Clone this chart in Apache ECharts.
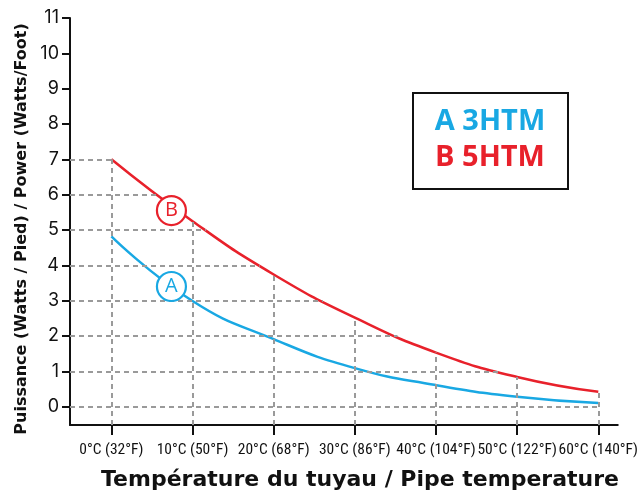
<!DOCTYPE html>
<html>
<head>
<meta charset="utf-8">
<script src="https://cdn.jsdelivr.net/npm/echarts@6/dist/echarts.min.js"></script>
<style>html,body{margin:0;padding:0;background:#fff;}#c{width:641px;height:495px;}</style>
</head>
<body>
<div id="c"></div>
<script>
// ---- data ----
const tempC = [0, 10, 20, 30, 40, 50, 60];
const tempF = [32, 50, 68, 86, 104, 122, 140];
const seriesA = [4.82, 2.99, 1.91, 1.09, 0.61, 0.28, 0.10]; // 3HTM
const seriesB = [7.00, 5.25, 3.74, 2.52, 1.53, 0.84, 0.42]; // 5HTM
const yTicks = [0, 1, 2, 3, 4, 5, 6, 7, 8, 9, 10, 11];
const guideY = [0, 1, 2, 3, 4, 5, 6, 7];
const markerA = [7.4, 3.40];
const markerB = [7.4, 5.55];
const legendLines = ['A 3HTM', 'B 5HTM'];

const BLUE = '#19a8e3';
const RED = '#e8212b';
const GRID = '#9a9a9a';
const X_MIN = -5.1, X_MAX = 62.4, Y_MIN = -0.52, Y_MAX = 11;

function pairs(xs, ys) { return xs.map((x, i) => [x, ys[i]]); }
// x where curve B falls to value v (linear between readings)
function crossB(v) {
  if (v >= seriesB[0]) return tempC[0];
  for (let i = 0; i < seriesB.length - 1; i++) {
    if (seriesB[i] >= v && seriesB[i + 1] <= v) {
      const t = (seriesB[i] - v) / (seriesB[i] - seriesB[i + 1]);
      return tempC[i] + t * (tempC[i + 1] - tempC[i]);
    }
  }
  return tempC[tempC.length - 1];
}
const guides = [];
guideY.forEach(v => guides.push([{ coord: [X_MIN, v] }, { coord: [crossB(v), v] }]));
tempC.forEach((x, i) => guides.push([{ coord: [x, Y_MIN] }, { coord: [x, seriesB[i]] }]));

const chart = echarts.init(document.getElementById('c'), null, { renderer: 'canvas' });
const axisFont = 'Inter, "Noto Sans", sans-serif';
chart.setOption({
  animation: false,
  backgroundColor: '#fff',
  grid: { left: 70, right: 19, top: 18, bottom: 70 },
  xAxis: {
    type: 'value', min: X_MIN, max: X_MAX,
    axisLine: { onZero: false, lineStyle: { color: '#111', width: 2 } },
    axisTick: { show: true, customValues: tempC, length: 10, lineStyle: { color: '#111', width: 2 } },
    axisLabel: {
      customValues: tempC, margin: 17, color: '#111', hideOverlap: false,
      fontFamily: '"Roboto Condensed", sans-serif', fontSize: 15.5,
      formatter: v => { const i = tempC.indexOf(v); return v + '°C (' + tempF[i] + '°F)'; }
    },
    splitLine: { show: false }
  },
  yAxis: {
    type: 'value', min: Y_MIN, max: Y_MAX,
    axisLine: { show: true, onZero: false, lineStyle: { color: '#111', width: 2 } },
    axisTick: { show: true, customValues: yTicks, length: 8, lineStyle: { color: '#111', width: 2 } },
    axisLabel: { customValues: yTicks, margin: 11, color: '#111', fontFamily: axisFont, fontSize: 18 },
    splitLine: { show: false }
  },
  series: [
    {
      type: 'line', data: [], z: 1, silent: true,
      markLine: {
        symbol: 'none', silent: true, animation: false,
        label: { show: false },
        lineStyle: { color: GRID, type: [5, 4], width: 2 },
        emphasis: { disabled: true },
        data: guides
      }
    },
    {
      name: 'A 3HTM', type: 'line', data: pairs(tempC, seriesA), smooth: true,
      symbol: 'none', z: 3, lineStyle: { color: BLUE, width: 2.5 }
    },
    {
      name: 'B 5HTM', type: 'line', data: pairs(tempC, seriesB), smooth: true,
      symbol: 'none', z: 3, lineStyle: { color: RED, width: 2.5 }
    },
    {
      type: 'scatter', data: [markerA], symbol: 'circle', symbolSize: 29, z: 5,
      itemStyle: { color: '#fff', borderColor: BLUE, borderWidth: 2.2, opacity: 1 },
      label: { show: true, position: 'inside', formatter: 'A', color: BLUE, fontFamily: '"Open Sans", sans-serif', fontSize: 20, fontWeight: 500 }
    },
    {
      type: 'scatter', data: [markerB], symbol: 'circle', symbolSize: 29, z: 5,
      itemStyle: { color: '#fff', borderColor: RED, borderWidth: 2.2, opacity: 1 },
      label: { show: true, position: 'inside', formatter: 'B', color: RED, fontFamily: '"Open Sans", sans-serif', fontSize: 20, fontWeight: 500 }
    }
  ],
  graphic: [
    {
      type: 'rect', left: 412, top: 92, z: 10,
      shape: { width: 155, height: 96 },
      style: { fill: '#fff', stroke: '#111', lineWidth: 2 }
    },
    {
      type: 'text', x: 490, y: 122, z: 11,
      style: { text: legendLines[0], fill: BLUE, font: 'bold 29px "Open Sans", sans-serif', align: 'center', verticalAlign: 'middle' }
    },
    {
      type: 'text', x: 490, y: 158, z: 11,
      style: { text: legendLines[1], fill: RED, font: 'bold 29px "Open Sans", sans-serif', align: 'center', verticalAlign: 'middle' }
    },
    {
      type: 'text', x: 360, y: 480, z: 11,
      style: { text: 'Température du tuyau / Pipe temperature', fill: '#111', font: 'bold 22px "DejaVu Sans", sans-serif', align: 'center', verticalAlign: 'middle' }
    },
    {
      type: 'text', x: 22, y: 229, rotation: Math.PI / 2, z: 11,
      style: { text: 'Puissance (Watts / Pied) / Power (Watts/Foot)', fill: '#111', font: 'bold 16px "DejaVu Sans", sans-serif', align: 'center', verticalAlign: 'middle' }
    }
  ]
});
</script>
</body>
</html>
